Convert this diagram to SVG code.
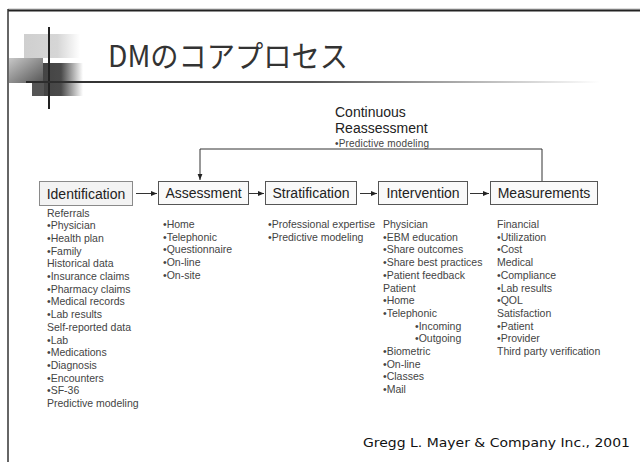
<svg xmlns="http://www.w3.org/2000/svg" width="640" height="462" viewBox="0 0 640 462">
<defs>
<linearGradient id="gLight" x1="0" y1="0" x2="1" y2="0">
<stop offset="0" stop-color="#cfcfcf"/><stop offset="0.6" stop-color="#d6d6d6"/><stop offset="1" stop-color="#ffffff"/>
</linearGradient>
<linearGradient id="gMid" x1="0" y1="0" x2="1" y2="1">
<stop offset="0" stop-color="#c8c8c8"/><stop offset="1" stop-color="#555555"/>
</linearGradient>
<linearGradient id="gDark" x1="0" y1="0" x2="1" y2="0">
<stop offset="0" stop-color="#444444"/><stop offset="0.45" stop-color="#4a4a4a"/><stop offset="1" stop-color="#ffffff"/>
</linearGradient>
<linearGradient id="gLine" x1="26" y1="0" x2="600" y2="0" gradientUnits="userSpaceOnUse">
<stop offset="0" stop-color="#2a2a2a"/><stop offset="0.5" stop-color="#555555"/><stop offset="1" stop-color="#ffffff"/>
</linearGradient>
<marker id="arr" viewBox="0 0 10 10" refX="10" refY="5" markerWidth="6" markerHeight="6" markerUnits="userSpaceOnUse" orient="auto">
<path d="M0,1 L10,5 L0,9 Z" fill="#222"/>
</marker>
</defs>
<style>
.box{fill:#f9f9f9;stroke:#555;stroke-width:1}
.box1{fill:#f3f3f3;stroke:#8a8a8a;stroke-width:1}
.lbl{font-family:"Liberation Sans",Arial,sans-serif;font-size:14px;fill:#222;text-anchor:middle}
.lst{font-family:"Liberation Sans",Arial,sans-serif;font-size:10.5px;fill:#444}
.conn{fill:none;stroke:#333;stroke-width:1}
</style>
<rect width="640" height="462" fill="#ffffff"/>
<!-- frame -->
<line x1="8" y1="9" x2="640" y2="9" stroke="#bbbbbb" stroke-width="1"/>
<line x1="8" y1="10.5" x2="640" y2="10.5" stroke="#222" stroke-width="2"/>
<line x1="8" y1="9" x2="8" y2="462" stroke="#333" stroke-width="1.5"/>
<!-- title decoration -->
<g id="decoration">
<rect x="24" y="34" width="56" height="24" fill="url(#gLight)"/>
<rect x="9" y="58" width="34" height="25" fill="url(#gMid)"/>
<rect x="43" y="63" width="40" height="33" fill="url(#gDark)"/>
<rect x="32" y="83" width="12" height="13" fill="#555555"/>
<line x1="49" y1="27" x2="49" y2="109" stroke="#222" stroke-width="2"/>
<line x1="26" y1="82" x2="600" y2="82" stroke="url(#gLine)" stroke-width="2"/>
</g>
<text id="title" x="108" y="67" font-family="'Noto Sans CJK JP','Noto Sans',sans-serif" font-size="30" fill="#333" textLength="240" lengthAdjust="spacingAndGlyphs">DMのコアプロセス</text>
<!-- connectors -->
<g id="connectors">
<line class="conn" x1="136" y1="193.5" x2="157" y2="193.5" marker-end="url(#arr)"/>
<line class="conn" x1="249" y1="193.5" x2="264" y2="193.5" marker-end="url(#arr)"/>
<line class="conn" x1="360" y1="193.5" x2="377" y2="193.5" marker-end="url(#arr)"/>
<line class="conn" x1="470" y1="193.5" x2="489" y2="193.5" marker-end="url(#arr)"/>
<polyline class="conn" points="542,181 542,149 200,149 200,180" marker-end="url(#arr)"/>
</g>
<g id="reassessment">
<text x="335" y="117" font-family="'Liberation Sans',Arial,sans-serif" font-size="14" fill="#222">Continuous</text>
<text x="335" y="133" font-family="'Liberation Sans',Arial,sans-serif" font-size="14" fill="#222">Reassessment</text>
<text x="335" y="146.5" font-family="'Liberation Sans',Arial,sans-serif" font-size="10" fill="#444" textLength="94" lengthAdjust="spacing">•Predictive modeling</text>
</g>
<!-- nodes -->
<g id="identification">
<rect class="box1" x="39.5" y="181.5" width="93" height="24"/>
<text class="lbl" x="86" y="198.5">Identification</text>
<text class="lst" x="47" y="216.5"><tspan x="47">Referrals</tspan><tspan x="47" dy="12.7">•Physician</tspan><tspan x="47" dy="12.7">•Health plan</tspan><tspan x="47" dy="12.7">•Family</tspan><tspan x="47" dy="12.7">Historical data</tspan><tspan x="47" dy="12.7">•Insurance claims</tspan><tspan x="47" dy="12.7">•Pharmacy claims</tspan><tspan x="47" dy="12.7">•Medical records</tspan><tspan x="47" dy="12.7">•Lab results</tspan><tspan x="47" dy="12.7">Self-reported data</tspan><tspan x="47" dy="12.7">•Lab</tspan><tspan x="47" dy="12.7">•Medications</tspan><tspan x="47" dy="12.7">•Diagnosis</tspan><tspan x="47" dy="12.7">•Encounters</tspan><tspan x="47" dy="12.7">•SF-36</tspan><tspan x="47" dy="12.7">Predictive modeling</tspan></text>
</g>
<g id="assessment">
<rect class="box" x="158.5" y="181.5" width="90" height="23"/>
<text class="lbl" x="203.5" y="198">Assessment</text>
<text class="lst" x="163" y="228"><tspan x="163">•Home</tspan><tspan x="163" dy="12.7">•Telephonic</tspan><tspan x="163" dy="12.7">•Questionnaire</tspan><tspan x="163" dy="12.7">•On-line</tspan><tspan x="163" dy="12.7">•On-site</tspan></text>
</g>
<g id="stratification">
<rect class="box" x="265.5" y="181.5" width="91" height="23"/>
<text class="lbl" x="311" y="198">Stratification</text>
<text class="lst" x="268" y="228"><tspan x="268">•Professional expertise</tspan><tspan x="268" dy="12.7">•Predictive modeling</tspan></text>
</g>
<g id="intervention">
<rect class="box" x="378.5" y="181.5" width="89" height="23"/>
<text class="lbl" x="423" y="198">Intervention</text>
<text class="lst" x="383" y="228"><tspan x="383">Physician</tspan><tspan x="383" dy="12.7">•EBM education</tspan><tspan x="383" dy="12.7">•Share outcomes</tspan><tspan x="383" dy="12.7">•Share best practices</tspan><tspan x="383" dy="12.7">•Patient feedback</tspan><tspan x="383" dy="12.7">Patient</tspan><tspan x="383" dy="12.7">•Home</tspan><tspan x="383" dy="12.7">•Telephonic</tspan><tspan x="415" dy="12.7">•Incoming</tspan><tspan x="415" dy="12.7">•Outgoing</tspan><tspan x="383" dy="12.7">•Biometric</tspan><tspan x="383" dy="12.7">•On-line</tspan><tspan x="383" dy="12.7">•Classes</tspan><tspan x="383" dy="12.7">•Mail</tspan></text>
</g>
<g id="measurements">
<rect class="box" x="490.5" y="181.5" width="107" height="23"/>
<text class="lbl" x="544" y="198">Measurements</text>
<text class="lst" x="497" y="228"><tspan x="497">Financial</tspan><tspan x="497" dy="12.7">•Utilization</tspan><tspan x="497" dy="12.7">•Cost</tspan><tspan x="497" dy="12.7">Medical</tspan><tspan x="497" dy="12.7">•Compliance</tspan><tspan x="497" dy="12.7">•Lab results</tspan><tspan x="497" dy="12.7">•QOL</tspan><tspan x="497" dy="12.7">Satisfaction</tspan><tspan x="497" dy="12.7">•Patient</tspan><tspan x="497" dy="12.7">•Provider</tspan><tspan x="497" dy="12.7">Third party verification</tspan></text>
</g>
<text id="footer" x="363" y="447" font-family="'DejaVu Sans',Verdana,sans-serif" font-size="12.5" fill="#111" textLength="267" lengthAdjust="spacingAndGlyphs">Gregg L. Mayer &amp; Company Inc., 2001</text>
</svg>
